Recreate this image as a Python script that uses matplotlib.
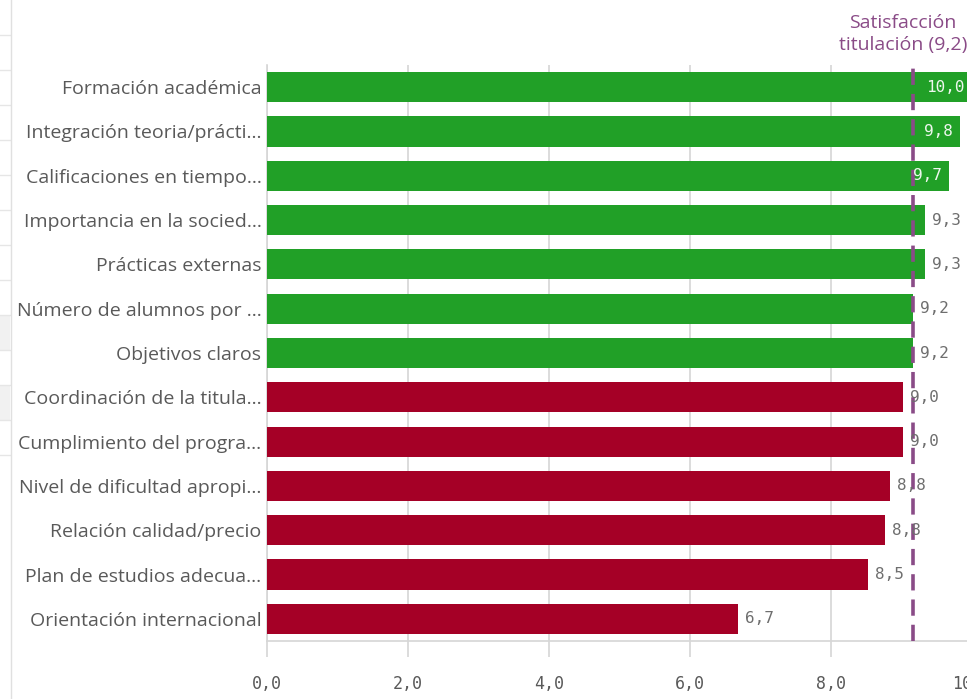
import matplotlib
matplotlib.use("Agg")
import matplotlib.pyplot as plt
from matplotlib.patches import Rectangle
from matplotlib.lines import Line2D

categories = [
    "Formación académica",
    "Integración teoria/prácti…",
    "Calificaciones en tiempo…",
    "Importancia en la socied…",
    "Prácticas externas",
    "Número de alumnos por …",
    "Objetivos claros",
    "Coordinación de la titula…",
    "Cumplimiento del progra…",
    "Nivel de dificultad apropi…",
    "Relación calidad/precio",
    "Plan de estudios adecua…",
    "Orientación internacional",
]
values = [10.0, 9.83, 9.67, 9.34, 9.33, 9.17, 9.17, 9.02, 9.02, 8.84, 8.77, 8.52, 6.68]
satisfaction = 9.16
x_ticks = [0, 2, 4, 6, 8, 10]
x_tick_labels = ["0,0", "2,0", "4,0", "6,0", "8,0", "10,0"]

GREEN = "#21a027"
RED = "#a50026"
PURPLE = "#8a4b87"
GRID = "#d6d6d6"
TEXT = "#595959"

W, H = 967, 699
fig = plt.figure(figsize=(W / 100, H / 100), dpi=100)

# faint application frame at the far left
for yy in [35, 70, 105, 140, 175, 210, 245, 280, 315, 350, 385, 420, 455]:
    fig.add_artist(Line2D([0, 10 / W], [1 - yy / H, 1 - yy / H], color="#e6e6e6", lw=1))
fig.add_artist(Rectangle((0, 1 - 350 / H), 10 / W, 35 / H, color="#f1f1f1", lw=0))
fig.add_artist(Rectangle((0, 1 - 420 / H), 10 / W, 35 / H, color="#f1f1f1", lw=0))
fig.add_artist(Line2D([10.5 / W, 10.5 / W], [0, 1], color="#e0e0e0", lw=1))

left_px, right_px, top_px, bot_px = 267, 972, 65, 641
ax = fig.add_axes([left_px / W, 1 - bot_px / H, (right_px - left_px) / W, (bot_px - top_px) / H])

n = len(categories)
ypos = list(range(n))
colors = [GREEN if v >= satisfaction else RED for v in values]
ax.barh(ypos, values, height=0.68, color=colors, zorder=3)
ax.set_ylim(n - 0.5, -0.5)
ax.set_xlim(0, 10)

ax.set_yticks(ypos)
ax.set_yticklabels(categories, fontfamily="Open Sans", fontsize=14, color=TEXT)
ax.tick_params(axis="y", length=0, pad=4)

ax.set_xticks(x_ticks)
ax.set_xticklabels(x_tick_labels, fontfamily="DejaVu Sans Mono", fontsize=12, color=TEXT)
ax.tick_params(axis="x", length=11.5, color=GRID, width=1.2, pad=13)

ax.grid(axis="x", color=GRID, linewidth=1.2, zorder=0)
for s in ["top", "right"]:
    ax.spines[s].set_visible(False)
for s in ["left", "bottom"]:
    ax.spines[s].set_color(GRID)
    ax.spines[s].set_linewidth(1.2)

# value labels
px_per_unit = (right_px - left_px) / 10.0
for y, v in zip(ypos, values):
    lab = f"{v:.1f}".replace(".", ",")
    if v > 9.6:
        ax.text(v - 7 / px_per_unit, y, lab, ha="right", va="center",
                fontfamily="DejaVu Sans Mono", fontsize=11.5, color="#eef7ee", zorder=5)
    else:
        ax.text(v + 7 / px_per_unit, y, lab, ha="left", va="center",
                fontfamily="DejaVu Sans Mono", fontsize=11.5, color="#6e6e6e", zorder=5)

# reference line
ax.axvline(satisfaction, color=PURPLE, linewidth=2.6, linestyle=(0, (4.5, 2.5)), zorder=4)
sat_label = "Satisfacción\ntitulación (" + f"{satisfaction:.1f}".replace(".", ",") + ")"
fig.text(903 / W, 1 - 34 / H, sat_label, ha="center", va="center",
         fontfamily="Open Sans", fontsize=14, color=PURPLE, linespacing=1.35)

fig.savefig("out.png", dpi=100)
